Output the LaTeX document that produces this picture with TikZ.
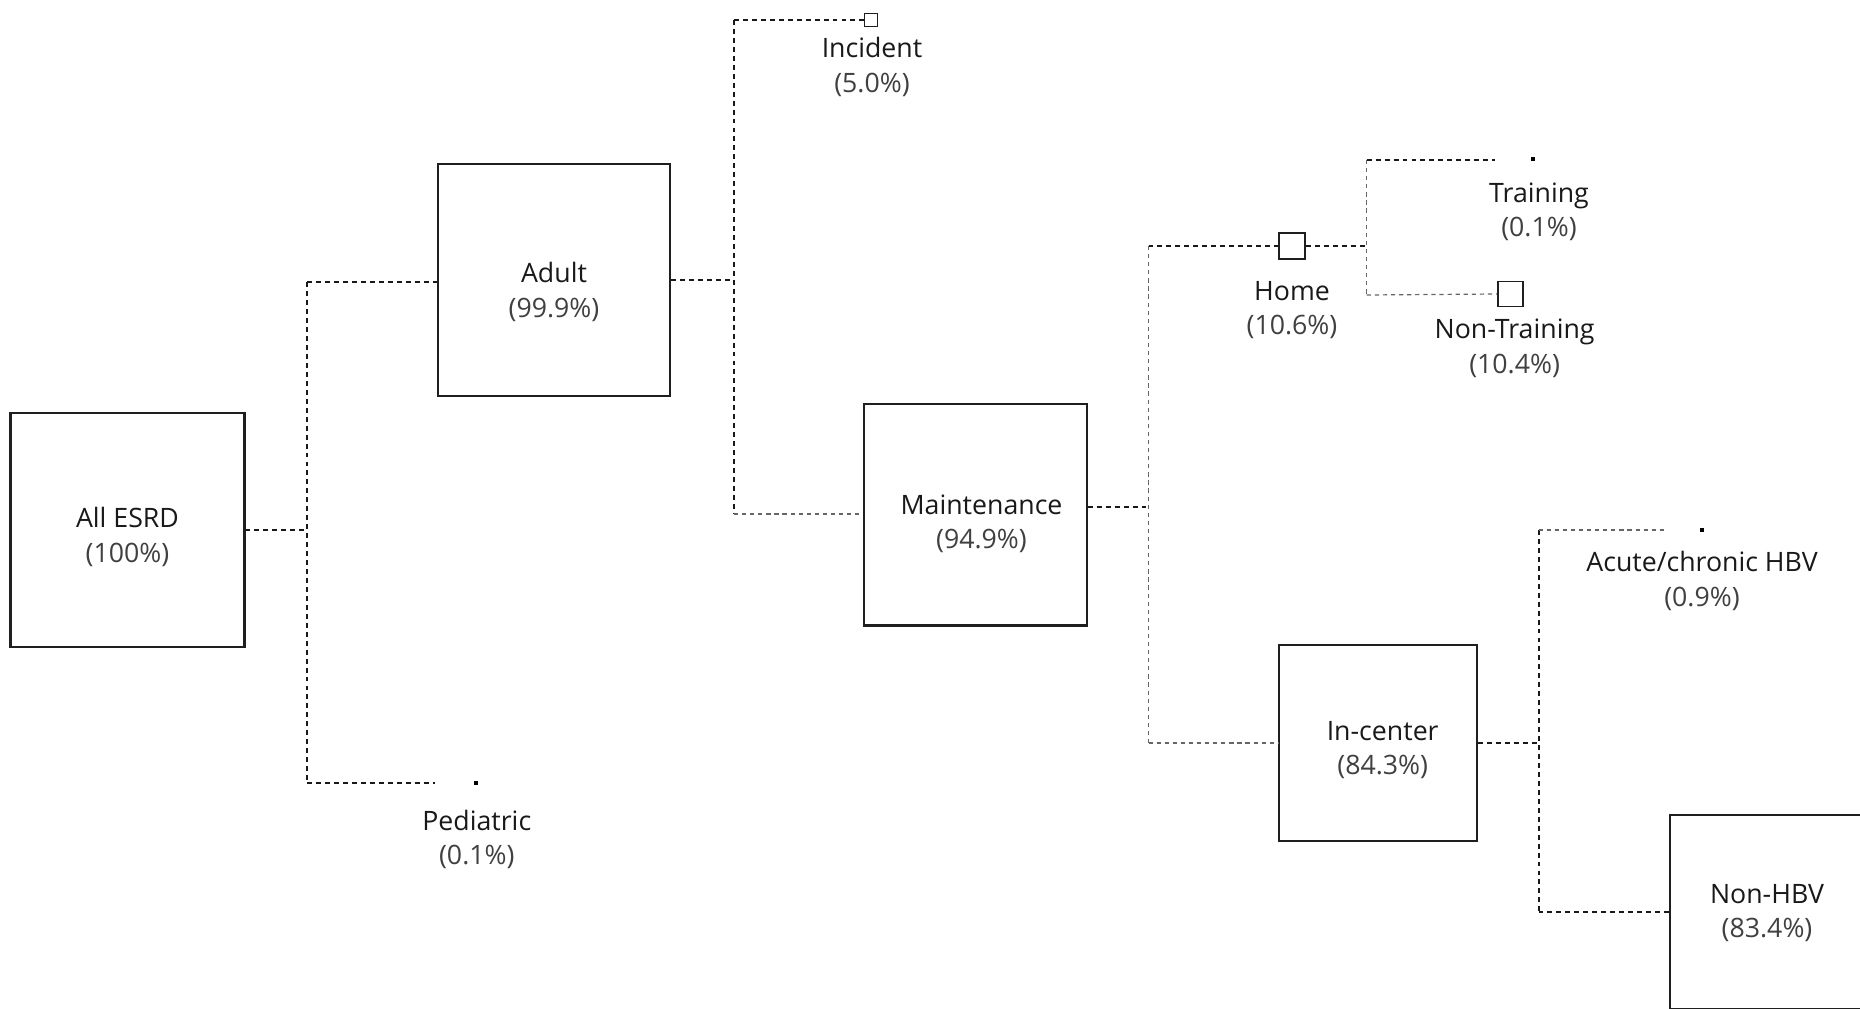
\documentclass[tikz,border=0pt]{standalone}
\usepackage{fontspec}
\setmainfont{Open Sans}
\newcommand\lbl{\fontsize{15.2}{19.8}\selectfont\color{black!90}}
\newcommand\pc[1]{\textcolor{black!75}{#1}}
\begin{document}
\begin{tikzpicture}[x=0.02cm,y=-0.02cm,
  box/.style={draw=black!88,line width=1.2pt,inner sep=0pt},
  dk/.style={draw=black!90,line width=1.15pt,dash pattern=on 2.8pt off 2.3pt},
  lt/.style={draw=black!60,line width=0.7pt,dash pattern=on 2.4pt off 2.2pt},
  sq/.style={draw=black!88,line width=1.1pt,inner sep=0pt,minimum size=#1},
  pt/.style={fill=black,inner sep=0pt,minimum size=0.08cm},
  lab/.style={align=center,font=\lbl,inner sep=0pt}]
\useasboundingbox (0,0) rectangle (1860,1008);
\clip (0,0) rectangle (1860,1008);

% boxes
\node[box,minimum width=4.68cm,minimum height=4.68cm] (esrd) at (127.5,529.6) {};
\node[box,minimum width=4.65cm,minimum height=4.65cm] (adult) at (554,280) {};
\node[box,minimum width=4.45cm,minimum height=4.43cm] (maint) at (975.5,514.8) {};
\node[box,minimum width=3.96cm,minimum height=3.92cm] (incen) at (1378,743) {};
\node[box,minimum width=3.88cm,minimum height=3.88cm] (nonhbv) at (1767,912) {};

% box texts
\node[lab] (esrdt) at (127.5,537.3) {All ESRD\\\pc{(100\%)}};
\node[lab] (adultt) at (554,291.8) {Adult\\\pc{(99.9\%)}};
\node[lab] (maintt) at (981.5,523.7) {Maintenance\\\pc{(94.9\%)}};
\node[lab] (incent) at (1382.7,750) {In-center\\\pc{(84.3\%)}};
\node[lab] (nonhbvt) at (1767,913) {Non-HBV\\\pc{(83.4\%)}};

% small squares and dots
\node[sq=0.26cm] (inc) at (871,20) {};
\node[sq=0.52cm] (home) at (1292,246) {};
\node[sq=0.5cm] (nontr) at (1510.6,294) {};
\node[pt] (pedd) at (476,783) {};
\node[pt] (trd) at (1533,158.5) {};
\node[pt] (acd) at (1702,530) {};

% labels
\node[lab] (pedl) at (476.8,839.4) {Pediatric\\\pc{(0.1\%)}};
\node[lab] (incl) at (872,66.6) {Incident\\\pc{(5.0\%)}};
\node[lab] (homel) at (1292,310) {Home\\\pc{(10.6\%)}};
\node[lab] (trl) at (1539,211.8) {Training\\\pc{(0.1\%)}};
\node[lab] (ntrl) at (1514.6,348.4) {Non-Training\\\pc{(10.4\%)}};
\node[lab] (acl) at (1702,581) {Acute/chronic HBV\\\pc{(0.9\%)}};

% fork coordinates
\coordinate (f1t) at (307.2,282.3);
\coordinate (f1b) at (307.2,783);
\coordinate (pedE) at (435,783);
\coordinate (f2t) at (734,20);
\coordinate (f2b) at (734,514);
\coordinate (m3) at ([yshift=0.16cm]maint.east);
\coordinate (f3t) at (1148.5,246);
\coordinate (f3b) at (1148.5,743);
\coordinate (f4t) at (1366.7,160);
\coordinate (f4b) at (1366.7,295);
\coordinate (trE) at (1495,160);
\coordinate (f5t) at (1538.5,530);
\coordinate (f5b) at (1538.5,912);
\coordinate (acE) at (1666.6,530);

% connectors
\draw[dk] (esrd.east) -- (esrd.east -| f1t);
\draw[dk] (f1t) -- (f1b);
\draw[dk] (f1t) -- (f1t -| adult.west);
\draw[dk] (f1b) -- (pedE);

\draw[dk] (adult.east) -- (adult.east -| f2t);
\draw[dk] (f2t) -- (f2b);
\draw[dk] (f2t) -- (inc.west);
\draw[lt] (f2b) -- (f2b -| maint.west);

\draw[dk] (m3) -- (m3 -| f3t);
\draw[lt] (f3t) -- (f3b);
\draw[dk] (f3t) -- (home.west);
\draw[lt] (f3b) -- (incen.west);

\draw[dk] (home.east) -- (home.east -| f4t);
\draw[lt] (f4t) -- (f4b);
\draw[dk] (f4t) -- (trE);
\draw[lt] (f4b) -- (nontr.west);

\draw[dk] (incen.east) -- (incen.east -| f5t);
\draw[dk] (f5t) -- (f5b);
\draw[lt] (f5t) -- (acE);
\draw[dk] (f5b) -- (nonhbv.west);
\end{tikzpicture}
\end{document}
